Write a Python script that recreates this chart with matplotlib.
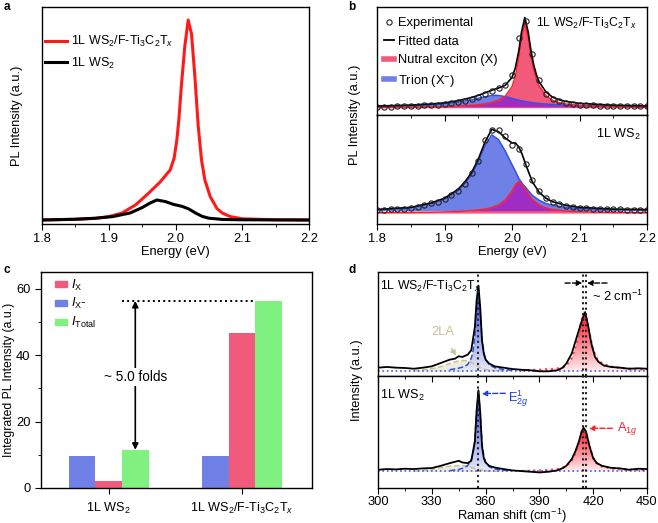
import numpy as np
import matplotlib
matplotlib.use("Agg")
import matplotlib.pyplot as plt
from matplotlib.colors import LinearSegmentedColormap
from matplotlib.lines import Line2D
from matplotlib.patches import Patch
from matplotlib.ticker import MultipleLocator

plt.rcParams['font.family'] = ['Liberation Sans', 'DejaVu Sans']
plt.rcParams['mathtext.fontset'] = 'custom'
plt.rcParams['mathtext.rm'] = 'Liberation Sans'
plt.rcParams['mathtext.it'] = 'Liberation Sans:italic'
plt.rcParams['mathtext.bf'] = 'Liberation Sans:bold'
plt.rcParams['font.size'] = 9.3
plt.rcParams['axes.linewidth'] = 1.0

# ---------------- data: panel a ----------------
a_E_red = [1.80, 1.85, 1.88, 1.90, 1.92, 1.94, 1.96, 1.977, 1.992, 1.998, 2.002, 2.005,
           2.009, 2.014, 2.019, 2.024, 2.029, 2.034, 2.039, 2.044, 2.052, 2.062, 2.07,
           2.082, 2.10, 2.15, 2.20]
a_I_red = [0.0, 0.003, 0.008, 0.017, 0.035, 0.075, 0.135, 0.19, 0.25, 0.31, 0.40, 0.50,
           0.68, 0.87, 1.0, 0.93, 0.72, 0.47, 0.30, 0.20, 0.117, 0.058, 0.035,
           0.017, 0.006, 0.001, 0.0]
a_E_blk = [1.80, 1.85, 1.88, 1.906, 1.932, 1.95, 1.962, 1.972, 1.985, 1.997, 2.01, 2.02,
           2.03, 2.04, 2.05, 2.07, 2.10, 2.20]
a_I_blk = [0.0, 0.004, 0.009, 0.017, 0.035, 0.062, 0.085, 0.10, 0.092, 0.078, 0.068, 0.055,
           0.035, 0.018, 0.009, 0.003, 0.001, 0.0]
a_labels = ['1L WS$_2$/F-Ti$_3$C$_2$T$_x$', '1L WS$_2$']

# ---------------- data: panel b ----------------
b_up_E = [1.80, 1.85, 1.88, 1.90, 1.92, 1.94, 1.95, 1.96, 1.97, 1.975, 1.98, 1.99, 2.00,
          2.005, 2.01, 2.014, 2.019, 2.024, 2.028, 2.032, 2.036, 2.04, 2.05, 2.06, 2.07,
          2.08, 2.10, 2.15, 2.20]
b_up_X = [0.003, 0.006, 0.009, 0.012, 0.018, 0.027, 0.034, 0.045, 0.06, 0.072, 0.085, 0.13,
          0.24, 0.36, 0.56, 0.78, 0.96, 0.80, 0.60, 0.44, 0.33, 0.25, 0.14, 0.085, 0.058,
          0.042, 0.025, 0.01, 0.005]
b_up_T = [0.004, 0.012, 0.022, 0.032, 0.05, 0.078, 0.095, 0.113, 0.127, 0.13, 0.128, 0.115,
          0.095, 0.085, 0.075, 0.068, 0.06, 0.053, 0.048, 0.044, 0.04, 0.037, 0.03, 0.025,
          0.021, 0.018, 0.013, 0.007, 0.004]
b_up_Xbase = -0.012
b_lo_E = [1.80, 1.85, 1.88, 1.90, 1.92, 1.93, 1.94, 1.95, 1.96, 1.97, 1.98, 1.99, 2.00,
          2.005, 2.01, 2.015, 2.02, 2.03, 2.04, 2.05, 2.06, 2.08, 2.10, 2.15, 2.20]
b_lo_T = [0.01, 0.033, 0.085, 0.14, 0.245, 0.33, 0.44, 0.60, 0.80, 0.94, 0.88, 0.74, 0.57,
          0.49, 0.40, 0.34, 0.29, 0.19, 0.13, 0.09, 0.066, 0.04, 0.025, 0.012, 0.008]
b_lo_X = [0.005, 0.008, 0.011, 0.014, 0.02, 0.025, 0.03, 0.038, 0.05, 0.068, 0.10, 0.16,
          0.27, 0.35, 0.39, 0.36, 0.29, 0.17, 0.10, 0.065, 0.045, 0.025, 0.016, 0.008, 0.005]
b_lo_Xbase = -0.03
b_exp_E = [1.80 + 0.01 * i for i in range(41)]
b_up_exp = [0.0, 0.0, 0.0, 0.005, 0.005, 0.01, 0.01, 0.015, 0.02, 0.025, 0.03, 0.04, 0.05,
            0.065, 0.085, 0.11, 0.145, 0.18, 0.21, 0.245, 0.36, 0.78, 0.98, 0.60, 0.30,
            0.15, 0.09, 0.06, 0.04, 0.03, 0.025, 0.02, 0.015, 0.012, 0.01, 0.01, 0.008,
            0.007, 0.006, 0.005, 0.005]
b_lo_exp = [0.01, 0.01, 0.015, 0.02, 0.025, 0.035, 0.05, 0.065, 0.09, 0.11, 0.145, 0.19,
            0.25, 0.33, 0.47, 0.62, 0.87, 1.0, 1.0, 0.93, 0.82, 0.76, 0.58, 0.38, 0.25,
            0.16, 0.11, 0.08, 0.06, 0.045, 0.035, 0.03, 0.025, 0.02, 0.02, 0.015, 0.015,
            0.012, 0.01, 0.01, 0.01]
b_legend = ['Experimental', 'Fitted data', 'Nutral exciton (X)', 'Trion (X$^{-}$)']

# ---------------- data: panel c ----------------
c_groups = ['1L WS$_2$', '1L WS$_2$/F-Ti$_3$C$_2$T$_x$']
c_IXm = [9.5, 9.7]
c_IX = [2.0, 46.7]
c_Itot = [11.5, 56.3]
c_labels = [r'$I_\mathrm{X}$', r'$I_\mathrm{X}$-', r'$I_\mathrm{Total}$']
c_fold_text = '~ 5.0 folds'

# ---------------- data: panel d ----------------
d_up_x = [300, 305, 310, 315, 320, 325, 330, 335, 340, 343, 345, 347, 350, 352, 354, 355,
          356, 357, 358, 359, 360, 362, 365, 370, 375, 380, 385, 390, 395, 400, 403, 405,
          408, 410, 412, 414, 415.5, 417, 419, 421, 423, 426, 430, 435, 440, 445, 450]
d_up_y = [0.08, 0.087, 0.08, 0.077, 0.07, 0.08, 0.093, 0.125, 0.157, 0.167, 0.19, 0.183,
          0.205, 0.247, 0.47, 0.73, 0.87, 0.66, 0.34, 0.215, 0.157, 0.12, 0.093, 0.08,
          0.067, 0.06, 0.055, 0.045, 0.045, 0.055, 0.08, 0.12, 0.215, 0.327, 0.44, 0.55,
          0.615, 0.50, 0.31, 0.183, 0.135, 0.10, 0.087, 0.08, 0.07, 0.074, 0.07]
d_lo_x = [300, 305, 310, 315, 320, 325, 330, 335, 340, 343, 345, 347, 350, 352, 354, 355,
          356, 357, 358, 359, 360, 362, 365, 370, 375, 380, 385, 390, 395, 400, 403, 405,
          408, 410, 412, 413.5, 414.6, 416, 418, 420, 422, 425, 430, 435, 440, 445, 450]
d_lo_y = [0.163, 0.169, 0.166, 0.172, 0.169, 0.175, 0.178, 0.198, 0.222, 0.234, 0.243,
          0.228, 0.222, 0.243, 0.414, 0.695, 0.873, 0.68, 0.37, 0.266, 0.228, 0.198, 0.183,
          0.169, 0.157, 0.151, 0.145, 0.139, 0.145, 0.157, 0.178, 0.198, 0.257, 0.325,
          0.414, 0.503, 0.538, 0.503, 0.37, 0.266, 0.222, 0.198, 0.18, 0.175, 0.163, 0.172,
          0.169]
d_E_x = [340, 345, 348, 350, 352, 353, 354, 355, 356, 357, 358, 359, 360, 362, 365, 370, 375]
d_up_E = [0.06, 0.075, 0.09, 0.11, 0.17, 0.24, 0.38, 0.65, 0.85, 0.62, 0.36, 0.23, 0.16,
          0.11, 0.08, 0.062, 0.055]
d_lo_E = [0.155, 0.165, 0.18, 0.2, 0.25, 0.31, 0.42, 0.68, 0.865, 0.66, 0.40, 0.29, 0.23,
          0.19, 0.17, 0.158, 0.153]
d_LA_x = [320, 330, 335, 340, 345, 348, 351, 354, 357, 360, 365, 370]
d_up_LA = [0.05, 0.07, 0.09, 0.12, 0.145, 0.15, 0.14, 0.11, 0.08, 0.062, 0.052, 0.048]
d_lo_LA = [0.15, 0.165, 0.18, 0.195, 0.2, 0.2, 0.19, 0.175, 0.162, 0.155, 0.15, 0.148]
d_A_x = [380, 390, 395, 400, 403, 405, 408, 410, 412, 413.5, 414.6, 416, 418, 420, 422,
         425, 430, 435, 440, 445, 450]
d_up_A = [0.055, 0.06, 0.065, 0.072, 0.085, 0.10, 0.17, 0.27, 0.41, 0.53, 0.60, 0.58, 0.40,
          0.25, 0.17, 0.12, 0.09, 0.078, 0.07, 0.066, 0.064]
d_lo_A = [0.152, 0.156, 0.16, 0.168, 0.18, 0.195, 0.245, 0.31, 0.40, 0.49, 0.53, 0.49,
          0.37, 0.27, 0.22, 0.19, 0.175, 0.168, 0.164, 0.16, 0.158]
d_up_base = 0.048
d_lo_base = 0.148
d_vlines = [356.0, 414.3, 416.2]

# ---------------- figure ----------------
W, H = 658, 523
fig = plt.figure(figsize=(W / 100, H / 100), dpi=100)
SUBFS = 8.8  # texts with sub/superscripts


def ax_at(l, t, r, b):
    return fig.add_axes([l / W, 1 - b / H, (r - l) / W, (b - t) / H])


def place_xlabel(ax, text, y):
    ax.set_xlabel(text)
    ax.xaxis.label.set_va('center')
    ax.xaxis.set_label_coords(0.5, y)


def place_ylabel(ax, text, x, **kw):
    ax.set_ylabel(text, **kw)
    ax.yaxis.label.set_va('center')
    ax.yaxis.set_label_coords(x, 0.5)


RED = '#FF1A1A'
PINK = '#F25A7C'
BLUE = '#6F80E6'
PURP = '#A02CC4'
GREEN = '#80F080'

# ---- panel a ----
axa = ax_at(42, 7, 309, 224)
axa.plot(a_E_red, a_I_red, color=RED, lw=2.2, label=a_labels[0])
axa.plot(a_E_blk, a_I_blk, color='black', lw=2.2, label=a_labels[1])
axa.set_xlim(1.8, 2.2)
axa.set_ylim(-0.02, 1.065)
axa.set_yticks([])
axa.xaxis.set_major_locator(MultipleLocator(0.1))
axa.xaxis.set_minor_locator(MultipleLocator(0.05))
axa.tick_params(axis='x', which='major', direction='out', length=4, pad=2.5)
axa.tick_params(axis='x', which='minor', direction='out', length=2.5)
place_xlabel(axa, 'Energy (eV)', -0.13)
place_ylabel(axa, 'PL Intensity (a.u.)', -0.094)
axa.legend(loc='upper left', bbox_to_anchor=(0.012, 0.875), frameon=False, borderpad=0,
           borderaxespad=0, handlelength=1.75, handletextpad=0.3, labelspacing=0.5,
           prop={'size': SUBFS + 0.2})

# ---- panel b ----
def panel_b(ax, E, X, T, Xbase, expv):
    E = np.asarray(E); X = np.asarray(X); T = np.asarray(T)
    Xd = X + Xbase
    ax.fill_between(E, 0, T, color=BLUE, lw=0)
    ax.fill_between(E, Xbase, Xd, color=PINK, lw=0)
    ax.fill_between(E, 0, np.maximum(np.minimum(T, Xd), 0), color=PURP, lw=0)
    ax.plot(E, T, color='#3550E8', lw=1.1)
    ax.plot(E, Xd, color='#FF2030', lw=1.1)
    ax.plot(E, T + X, color='black', lw=1.2)
    ax.plot(b_exp_E, expv, ls='none', marker='o', ms=3.8, mfc='none', mec='#222222', mew=0.8)
    ax.set_xlim(1.8, 2.2)
    ax.set_yticks([])
    ax.xaxis.set_major_locator(MultipleLocator(0.1))
    ax.xaxis.set_minor_locator(MultipleLocator(0.05))


axb1 = ax_at(377, 7, 647, 115)
axb2 = ax_at(377, 115, 647, 224)
panel_b(axb1, b_up_E, b_up_X, b_up_T, b_up_Xbase, b_up_exp)
panel_b(axb2, b_lo_E, b_lo_X, b_lo_T, b_lo_Xbase, b_lo_exp)
axb1.set_ylim(-0.095, 1.14)
axb2.set_ylim(-0.165, 1.186)
axb1.tick_params(axis='x', which='both', labelbottom=False, length=0)
axb2.tick_params(axis='x', which='major', direction='out', length=4, top=True, pad=2.5)
axb2.tick_params(axis='x', which='minor', direction='out', length=2.5, top=True)
axb2.tick_params(axis='x', which='both', labeltop=False)
for t in axb2.xaxis.get_major_ticks() + axb2.xaxis.get_minor_ticks():
    t.tick2line.set_marker(3)  # top ticks pointing down (inward)
place_xlabel(axb2, 'Energy (eV)', -0.26)
fig.text(355 / W, 1 - 115 / H, 'PL Intensity (a.u.)', rotation=90, ha='center', va='center')
axb1.text(0.96, 0.85, '1L WS$_2$/F-Ti$_3$C$_2$T$_x$', transform=axb1.transAxes,
          ha='right', va='center', fontsize=SUBFS)
axb2.text(0.975, 0.82, '1L WS$_2$', transform=axb2.transAxes, ha='right', va='center',
          fontsize=SUBFS + 0.3)
hb = [Line2D([], [], ls='none', marker='o', ms=3.8, mfc='none', mec='#222222', mew=0.8),
      Line2D([], [], color='black', lw=1.3),
      Line2D([], [], color=PINK, lw=4),
      Line2D([], [], color=BLUE, lw=4)]
axb1.legend(hb, b_legend, loc='upper left', bbox_to_anchor=(0.025, 0.905), frameon=False,
            borderpad=0, borderaxespad=0, handlelength=0.8, handletextpad=0.3,
            labelspacing=0.5, numpoints=1)

# ---- panel c ----
axc = ax_at(41, 272, 312, 488)
xc = np.arange(len(c_groups))
bw = 0.2
axc.bar(xc - bw, c_IXm, bw, color=BLUE, lw=0)
axc.bar(xc, c_IX, bw, color=PINK, lw=0)
axc.bar(xc + bw, c_Itot, bw, color=GREEN, lw=0)
axc.set_xlim(-0.507, 1.525)
axc.set_ylim(0, 65)
axc.set_xticks(xc)
axc.set_xticklabels(c_groups, fontsize=SUBFS + 0.3)
axc.yaxis.set_major_locator(MultipleLocator(20))
axc.yaxis.set_minor_locator(MultipleLocator(10))
axc.tick_params(axis='both', which='major', direction='out', length=4)
axc.tick_params(axis='x', which='major', pad=5.5)
axc.tick_params(axis='y', which='minor', direction='out', length=2.5)
place_ylabel(axc, 'Integrated PL Intensity (a.u.)', -0.118, fontsize=8.8)
axc.plot([xc[0] + bw / 2, xc[1] + bw / 2], [c_Itot[1], c_Itot[1]], color='black', ls=':', lw=1.4)
axc.annotate('', xy=(xc[0] + bw, c_Itot[0]), xytext=(xc[0] + bw, c_Itot[1]),
             arrowprops=dict(arrowstyle='<|-|>', color='black', lw=1.2, mutation_scale=9,
                             shrinkA=0, shrinkB=0))
axc.text(xc[0] + bw, 33.5, c_fold_text, ha='center', va='center', fontsize=9.8,
         bbox=dict(facecolor='white', edgecolor='none', pad=1.5))
hc = [Patch(color=PINK), Patch(color=BLUE), Patch(color=GREEN)]
axc.legend(hc, c_labels, loc='upper left', bbox_to_anchor=(0.05, 0.975), frameon=False,
           borderpad=0, borderaxespad=0, handlelength=1.0, handleheight=0.3,
           handletextpad=0.3, labelspacing=0.3)

# ---- panel d ----
def grad_fill(ax, x, base, y, top_color, bottom_color):
    poly = ax.fill_between(x, base, y, facecolor='none', edgecolor='none')
    path = poly.get_paths()[0]
    cmap = LinearSegmentedColormap.from_list('g', [bottom_color, top_color])
    grad = np.linspace(0, 1, 256).reshape(-1, 1)
    im = ax.imshow(grad, extent=[min(x), max(x), base, max(y)], origin='lower',
                   aspect='auto', cmap=cmap, zorder=1)
    im.set_clip_path(path, transform=ax.transData)


def panel_d(ax, x, y, LA, Ev, Av, base):
    ax.fill_between(d_LA_x, base, LA, color='#EDEBE0', lw=0, zorder=0.9)
    grad_fill(ax, d_E_x, base, Ev, '#2A3CD6', '#E8EAFA')
    grad_fill(ax, d_A_x, base, Av, '#FF1020', '#FFECEF')
    ax.plot(d_LA_x, LA, color='#C9C09A', ls='--', lw=1.1, zorder=2)
    ax.plot(d_E_x, Ev, color='#3050E0', ls='--', lw=1.1, zorder=2)
    ax.plot(d_A_x, Av, color='#FF4050', ls=':', lw=1.6, zorder=2)
    ax.axhline(base, color='#4060E0', ls=':', lw=1.2, zorder=2)
    ax.plot(x, y, color='black', lw=1.3, zorder=3)
    for v in d_vlines:
        ax.axvline(v, color='#222222', ls=':', lw=1.5, zorder=4)
    ax.set_xlim(300, 450)
    ax.set_ylim(0, 1)
    ax.set_yticks([])
    ax.xaxis.set_major_locator(MultipleLocator(30))
    ax.xaxis.set_minor_locator(MultipleLocator(15))


axd1 = ax_at(378, 272, 647, 376)
axd2 = ax_at(378, 376, 647, 488)
panel_d(axd1, d_up_x, d_up_y, d_up_LA, d_up_E, d_up_A, d_up_base)
panel_d(axd2, d_lo_x, d_lo_y, d_lo_LA, d_lo_E, d_lo_A, d_lo_base)
axd1.tick_params(axis='x', which='both', labelbottom=False, length=0)
axd2.tick_params(axis='x', which='major', direction='out', length=4, top=True, pad=1.5)
axd2.tick_params(axis='x', which='minor', direction='out', length=2.5, top=True)
for t in axd2.xaxis.get_major_ticks() + axd2.xaxis.get_minor_ticks():
    t.tick2line.set_marker(3)
place_xlabel(axd2, 'Raman shift (cm$^{-1}$)', -0.245)
fig.text(357 / W, 1 - 380 / H, 'Intensity (a.u.)', rotation=90, ha='center', va='center')
axd1.text(301, 0.86, '1L WS$_2$/F-Ti$_3$C$_2$T$_x$', ha='left', va='center', zorder=5,
          fontsize=SUBFS)
axd2.text(301, 0.83, '1L WS$_2$', ha='left', va='center', zorder=5, fontsize=SUBFS + 0.3)
axd1.annotate('', xy=(d_vlines[1] - 0.4, 0.894), xytext=(404.3, 0.894),
              arrowprops=dict(arrowstyle='-|>', color='black', ls='--', lw=1.0,
                              mutation_scale=8, shrinkA=0, shrinkB=0))
axd1.annotate('', xy=(d_vlines[2] + 0.4, 0.894), xytext=(427.7, 0.894),
              arrowprops=dict(arrowstyle='-|>', color='black', ls='--', lw=1.0,
                              mutation_scale=8, shrinkA=0, shrinkB=0))
axd1.text(419.5, 0.77, '~ 2 cm$^{-1}$', ha='left', va='center', zorder=5)
axd1.annotate('2LA', xy=(343.4, 0.192), xytext=(336.3, 0.42), color='#C9C09A',
              ha='center', va='center', zorder=5,
              arrowprops=dict(arrowstyle='-|>', color='#C9C09A', ls='--', lw=1.0,
                              mutation_scale=8, shrinkA=6, shrinkB=0))
axd2.annotate('E$^{1}_{2g}$', xy=(357.8, 0.843), xytext=(372.5, 0.80), color='#2040E0',
              ha='left', va='center', zorder=5,
              arrowprops=dict(arrowstyle='-|>', color='#2040E0', ls='--', lw=1.0,
                              mutation_scale=8, shrinkA=0, shrinkB=0,
                              relpos=(0, 0.75)))
axd2.annotate('A$_{1g}$', xy=(417.6, 0.533), xytext=(433.0, 0.533), color='#FF2030',
              ha='left', va='center', zorder=5,
              arrowprops=dict(arrowstyle='-|>', color='#FF2030', ls='--', lw=1.0,
                              mutation_scale=8, shrinkA=1, shrinkB=0))

# panel letters
for lab, (x, y) in zip('abcd', [(7, 7), (352, 7), (7, 270), (352, 270)]):
    fig.text(x / W, 1 - y / H, lab, fontsize=8.5, fontweight='bold', ha='center', va='center')

fig.savefig('out.png', dpi=100)
